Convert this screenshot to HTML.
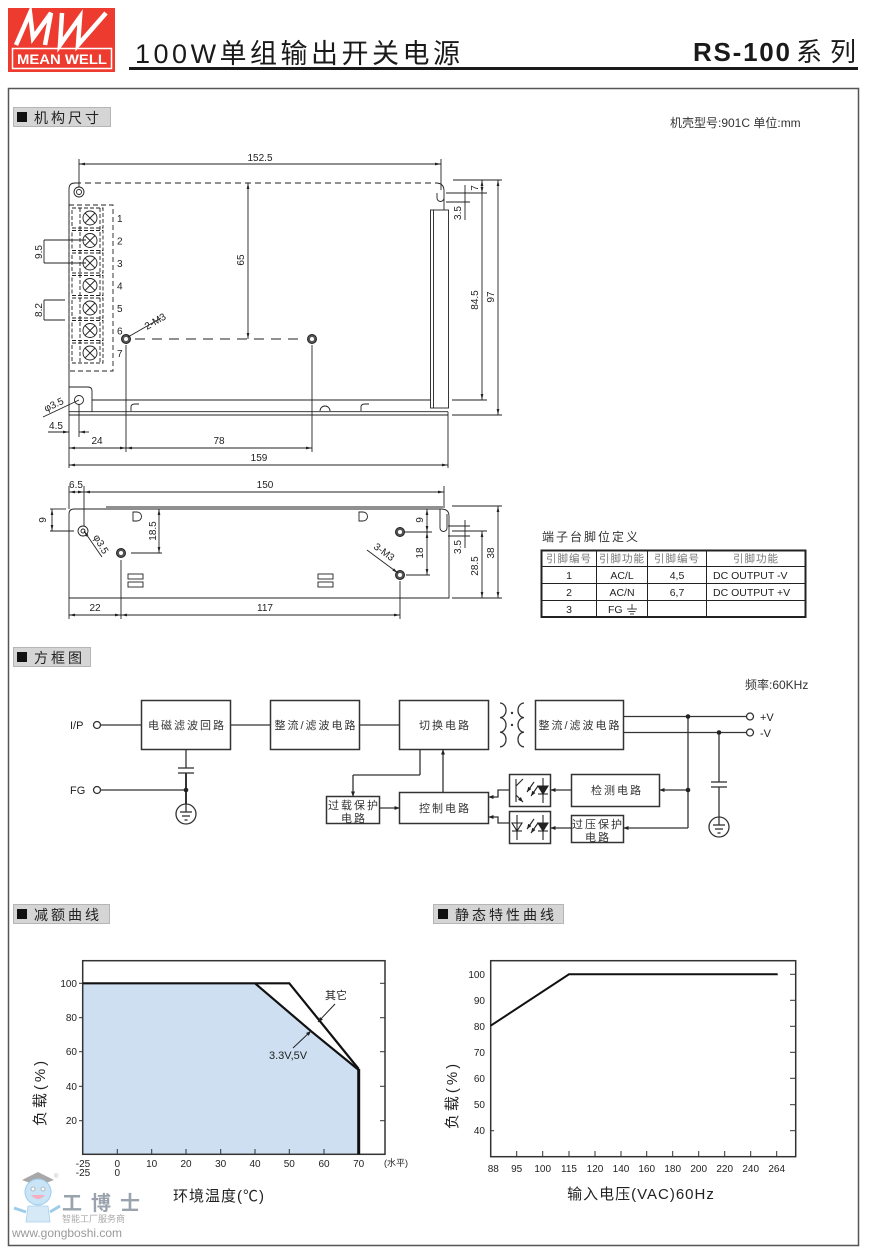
<!DOCTYPE html>
<html><head><meta charset="utf-8"><style>
html,body{margin:0;padding:0;background:#fff;}
svg{display:block;}
text{font-family:"Liberation Sans","Noto Sans CJK SC",sans-serif;fill:#222;}
.d{font-size:10px;}
.b{font-size:11px;letter-spacing:2px;fill:#333;}
.l{stroke:#222;stroke-width:0.9;fill:none;}
.k{stroke:#333;stroke-width:1.3;fill:none;}
</style></head><body>
<svg width="869" height="1253" viewBox="0 0 869 1253" xmlns="http://www.w3.org/2000/svg">
<defs>
<marker id="a" viewBox="0 0 12 6" refX="12" refY="3" markerWidth="6" markerHeight="3" orient="auto-start-reverse" markerUnits="userSpaceOnUse"><path d="M0,0.3 L12,3 L0,5.7z" fill="#222"/></marker>
<marker id="b" viewBox="0 0 10 8" refX="10" refY="4" markerWidth="5" markerHeight="4" orient="auto" markerUnits="userSpaceOnUse"><path d="M0,0 L10,4 L0,8z" fill="#222"/></marker>
</defs>

<!-- Header -->
<rect x="8" y="8" width="107" height="64" fill="#ee3b2f"/>
<polyline points="16,45 30,13 33,38 51,13 45,45" fill="none" stroke="#fff" stroke-width="4.5" stroke-linejoin="miter"/>
<polyline points="62,13 60,45 80,17 78,45 106,13" fill="none" stroke="#fff" stroke-width="4.5" stroke-linejoin="miter"/>
<rect x="12.5" y="48.5" width="99" height="20" fill="none" stroke="#fff" stroke-width="1.5"/>
<text x="62" y="64" text-anchor="middle" font-size="14" font-weight="bold" style="fill:#fff" textLength="90" lengthAdjust="spacingAndGlyphs">MEAN WELL</text>
<text x="135" y="63" font-size="27" textLength="325" lengthAdjust="spacing" style="fill:#1a1a1a">100W单组输出开关电源</text>
<rect x="129" y="67" width="729" height="3" fill="#1a1a1a"/>
<text x="693" y="61" font-size="26" font-weight="bold" textLength="97" lengthAdjust="spacing" style="fill:#1a1a1a">RS-100</text>
<text y="61" font-size="26" style="fill:#1a1a1a"><tspan x="796">系</tspan><tspan x="830">列</tspan></text>

<!-- Frame -->
<rect x="8.5" y="88.5" width="850" height="1157" fill="none" stroke="#555" stroke-width="1.5"/>

<!-- Section headers -->
<rect x="13.5" y="107.5" width="97" height="19" fill="#d5d5d5" stroke="#b5b5b5"/>
<rect x="17" y="112" width="10" height="10" fill="#111"/>
<text x="34" y="123" font-size="14" letter-spacing="3">机构尺寸</text>

<rect x="13.5" y="647.5" width="77" height="19" fill="#d5d5d5" stroke="#b5b5b5"/>
<rect x="17" y="652" width="10" height="10" fill="#111"/>
<text x="34" y="663" font-size="14" letter-spacing="3">方框图</text>

<rect x="13.5" y="904.5" width="96" height="19" fill="#d5d5d5" stroke="#b5b5b5"/>
<rect x="17" y="909" width="10" height="10" fill="#111"/>
<text x="34" y="920" font-size="14" letter-spacing="3">减额曲线</text>

<rect x="433.5" y="904.5" width="130" height="19" fill="#d5d5d5" stroke="#b5b5b5"/>
<rect x="438" y="909" width="10" height="10" fill="#111"/>
<text x="455" y="920" font-size="14" letter-spacing="3">静态特性曲线</text>

<text x="670" y="127" font-size="12" style="fill:#333">机壳型号:901C 单位:mm</text>

<!-- ========== TOP VIEW ========== -->
<path class="l" d="M69,415 V189 Q69,183 75,183"/>
<path class="l" d="M75,183 H436" stroke-dasharray="6,4"/>
<path class="l" d="M436,183 Q444,183 444,191 V210"/>
<path class="l" d="M437,193 V198 A3.5,3.5 0 0 0 444,198"/>
<rect x="430.5" y="210" width="18" height="198" class="l" stroke-width="1.2"/>
<line x1="433.5" y1="210" x2="433.5" y2="408" class="l"/>
<line x1="92" y1="400" x2="430.5" y2="400" class="l"/>
<line x1="69" y1="411.7" x2="448" y2="411.7" class="l"/>
<line x1="69" y1="415" x2="448" y2="415" class="l"/>
<line x1="448" y1="411.7" x2="448" y2="415" class="l"/>
<path class="l" d="M69,387 H88 Q92,387 92,391 V411.7"/>
<circle cx="79" cy="192" r="5" class="l"/><circle cx="79" cy="192" r="2.5" class="l"/>
<circle cx="79" cy="400" r="4.5" class="l"/>
<path class="l" d="M131,411 V407 Q131,404 135,404 H139"/>
<path class="l" d="M320,411 A5,5 0 0 1 330,411"/>
<path class="l" d="M361,411 V407 Q361,404 365,404 H369"/>

<!-- terminal block -->
<rect x="69" y="205" width="44" height="166" class="l" stroke-dasharray="5,3"/>
<g class="l" stroke-dasharray="4,2">
<rect x="72" y="208" width="31" height="20"/><rect x="72" y="230.5" width="31" height="20"/><rect x="72" y="253" width="31" height="20"/><rect x="72" y="275.5" width="31" height="20"/><rect x="72" y="298" width="31" height="20"/><rect x="72" y="320.5" width="31" height="20"/><rect x="72" y="343" width="31" height="20"/>
<line x1="80" y1="208" x2="80" y2="363"/><line x1="100" y1="208" x2="100" y2="363"/>
</g>
<g class="l">
<circle cx="90" cy="218" r="7"/><path d="M85,213 L95,223 M95,213 L85,223"/>
<circle cx="90" cy="240.5" r="7"/><path d="M85,235.5 L95,245.5 M95,235.5 L85,245.5"/>
<circle cx="90" cy="263" r="7"/><path d="M85,258 L95,268 M95,258 L85,268"/>
<circle cx="90" cy="285.5" r="7"/><path d="M85,280.5 L95,290.5 M95,280.5 L85,290.5"/>
<circle cx="90" cy="308" r="7"/><path d="M85,303 L95,313 M95,303 L85,313"/>
<circle cx="90" cy="330.5" r="7"/><path d="M85,325.5 L95,335.5 M95,325.5 L85,335.5"/>
<circle cx="90" cy="353" r="7"/><path d="M85,348 L95,358 M95,348 L85,358"/>
</g>
<g class="d"><text x="117" y="222">1</text><text x="117" y="244.5">2</text><text x="117" y="267">3</text><text x="117" y="289.5">4</text><text x="117" y="312">5</text><text x="117" y="334.5">6</text><text x="117" y="357">7</text></g>

<!-- 9.5 / 8.2 -->
<g class="l"><line x1="44" y1="240" x2="86" y2="240"/><line x1="44" y1="263" x2="86" y2="263"/><line x1="44" y1="240" x2="44" y2="263"/>
<line x1="44" y1="300" x2="65" y2="300"/><line x1="44" y1="320" x2="65" y2="320"/><line x1="44" y1="300" x2="44" y2="320"/></g>
<text class="d" transform="translate(42,252) rotate(-90)" text-anchor="middle">9.5</text>
<text class="d" transform="translate(42,310) rotate(-90)" text-anchor="middle">8.2</text>

<!-- mount holes 2-M3 -->
<circle cx="126" cy="339" r="4.5" fill="#555" stroke="#222"/><circle cx="126" cy="339" r="2" fill="#fff"/>
<circle cx="312" cy="339" r="4.5" fill="#555" stroke="#222"/><circle cx="312" cy="339" r="2" fill="#fff"/>
<line x1="135" y1="339" x2="304" y2="339" class="l" stroke-dasharray="10,7"/>
<line x1="128" y1="337" x2="161" y2="318" class="l"/>
<text class="d" transform="translate(147,330) rotate(-30)">2-M3</text>
<line x1="248" y1="183" x2="248" y2="339" class="l" marker-start="url(#a)" marker-end="url(#a)"/>
<text class="d" transform="translate(244,260) rotate(-90)" text-anchor="middle">65</text>

<!-- bottom dims top view -->
<g class="l"><line x1="126" y1="345" x2="126" y2="452"/><line x1="312" y1="345" x2="312" y2="452"/>
<line x1="69" y1="415" x2="69" y2="468"/><line x1="448" y1="415" x2="448" y2="468"/>
<line x1="79" y1="404" x2="79" y2="437"/></g>
<line x1="69" y1="448" x2="126" y2="448" class="l" marker-start="url(#a)" marker-end="url(#a)"/>
<line x1="126" y1="448" x2="312" y2="448" class="l" marker-start="url(#a)" marker-end="url(#a)"/>
<line x1="69" y1="465" x2="448" y2="465" class="l" marker-start="url(#a)" marker-end="url(#a)"/>
<line x1="48" y1="432" x2="69" y2="432" class="l" marker-end="url(#a)"/>
<line x1="89" y1="432" x2="79" y2="432" class="l" marker-end="url(#a)"/>
<text class="d" x="97" y="444" text-anchor="middle">24</text>
<text class="d" x="219" y="444" text-anchor="middle">78</text>
<text class="d" x="259" y="461" text-anchor="middle">159</text>
<text class="d" x="56" y="429" text-anchor="middle">4.5</text>
<line x1="43" y1="417" x2="79" y2="400" class="l"/>
<text class="d" transform="translate(46,412) rotate(-25)">φ3.5</text>

<!-- 152.5 -->
<g class="l"><line x1="79" y1="159" x2="79" y2="187"/><line x1="441" y1="159" x2="441" y2="190"/></g>
<line x1="79" y1="164" x2="441" y2="164" class="l" marker-start="url(#a)" marker-end="url(#a)"/>
<text class="d" x="260" y="161" text-anchor="middle">152.5</text>

<!-- right dims top view -->
<g class="l"><line x1="453" y1="180" x2="502" y2="180"/><line x1="446" y1="193" x2="487" y2="193"/><line x1="446" y1="202" x2="470" y2="202"/>
<line x1="452" y1="400" x2="487" y2="400"/><line x1="452" y1="415" x2="502" y2="415"/>
<line x1="465" y1="185" x2="465" y2="220"/></g>
<line x1="482" y1="180" x2="482" y2="193" class="l" marker-start="url(#a)" marker-end="url(#a)"/>
<line x1="482" y1="193" x2="482" y2="400" class="l" marker-end="url(#a)"/>
<line x1="498" y1="180" x2="498" y2="415" class="l" marker-start="url(#a)" marker-end="url(#a)"/>
<text class="d" transform="translate(478,188) rotate(-90)" text-anchor="middle">7</text>
<text class="d" transform="translate(461,213) rotate(-90)" text-anchor="middle">3.5</text>
<text class="d" transform="translate(478,300) rotate(-90)" text-anchor="middle">84.5</text>
<text class="d" transform="translate(494,297) rotate(-90)" text-anchor="middle">97</text>

<!-- ========== SIDE VIEW ========== -->
<path class="l" d="M69,598 V514 Q69,509 74,509 H441 Q449,509 449,516 V598 Z"/>
<line x1="106" y1="507" x2="443" y2="507" class="l"/>
<path class="l" d="M440,509 V528 A3.5,3.5 0 0 0 447,528 V514"/>
<circle cx="83" cy="531" r="5" class="l"/><circle cx="83" cy="531" r="2" class="l"/>
<circle cx="121" cy="553" r="4.5" fill="#555" stroke="#222"/><circle cx="121" cy="553" r="2" fill="#fff"/>
<circle cx="400" cy="532" r="4.5" fill="#555" stroke="#222"/><circle cx="400" cy="532" r="2" fill="#fff"/>
<circle cx="400" cy="575" r="4.5" fill="#555" stroke="#222"/><circle cx="400" cy="575" r="2" fill="#fff"/>
<path class="l" d="M133,512 h4 a4.5,4.5 0 0 1 0,9 h-4 z"/>
<path class="l" d="M359,512 h4 a4.5,4.5 0 0 1 0,9 h-4 z"/>
<g class="l"><rect x="128" y="574" width="15" height="5"/><rect x="128" y="582" width="15" height="5"/>
<rect x="318" y="574" width="15" height="5"/><rect x="318" y="582" width="15" height="5"/></g>
<g class="l"><line x1="69" y1="486" x2="69" y2="509"/><line x1="84" y1="486" x2="84" y2="526"/><line x1="444" y1="486" x2="444" y2="508"/>
<line x1="50" y1="509" x2="66" y2="509"/><line x1="50" y1="531" x2="74" y2="531"/>
<line x1="131" y1="553" x2="162" y2="553"/>
<line x1="405" y1="532" x2="432" y2="532"/><line x1="406" y1="575" x2="430" y2="575"/>
<line x1="452" y1="506" x2="502" y2="506"/><line x1="452" y1="531" x2="487" y2="531"/><line x1="452" y1="598" x2="502" y2="598"/>
<line x1="448" y1="526" x2="470" y2="526"/><line x1="448" y1="536" x2="470" y2="536"/>
<line x1="465" y1="520" x2="465" y2="548"/>
<line x1="69" y1="598" x2="69" y2="619"/><line x1="121" y1="560" x2="121" y2="619"/><line x1="400" y1="581" x2="400" y2="619"/></g>
<line x1="69" y1="492" x2="84" y2="492" class="l" marker-start="url(#a)" marker-end="url(#a)"/>
<line x1="84" y1="492" x2="444" y2="492" class="l" marker-start="url(#a)" marker-end="url(#a)"/>
<line x1="52" y1="509" x2="52" y2="531" class="l" marker-start="url(#a)" marker-end="url(#a)"/>
<line x1="159" y1="509" x2="159" y2="553" class="l" marker-start="url(#a)" marker-end="url(#a)"/>
<line x1="427" y1="509" x2="427" y2="532" class="l" marker-start="url(#a)" marker-end="url(#a)"/>
<line x1="427" y1="532" x2="427" y2="575" class="l" marker-start="url(#a)" marker-end="url(#a)"/>
<line x1="482" y1="531" x2="482" y2="598" class="l" marker-start="url(#a)" marker-end="url(#a)"/>
<line x1="498" y1="506" x2="498" y2="598" class="l" marker-start="url(#a)" marker-end="url(#a)"/>
<line x1="69" y1="615" x2="121" y2="615" class="l" marker-start="url(#a)" marker-end="url(#a)"/>
<line x1="121" y1="615" x2="400" y2="615" class="l" marker-start="url(#a)" marker-end="url(#a)"/>
<line x1="84" y1="531" x2="102" y2="557" class="l" marker-start="url(#a)"/>
<line x1="367" y1="550" x2="398" y2="573" class="l" marker-end="url(#a)"/>
<text class="d" x="76" y="488" text-anchor="middle">6.5</text>
<text class="d" x="265" y="488" text-anchor="middle">150</text>
<text class="d" transform="translate(46,520) rotate(-90)" text-anchor="middle">9</text>
<text class="d" transform="translate(156,531) rotate(-90)" text-anchor="middle">18.5</text>
<text class="d" transform="translate(423,520) rotate(-90)" text-anchor="middle">9</text>
<text class="d" transform="translate(423,553) rotate(-90)" text-anchor="middle">18</text>
<text class="d" transform="translate(461,547) rotate(-90)" text-anchor="middle">3.5</text>
<text class="d" transform="translate(478,566) rotate(-90)" text-anchor="middle">28.5</text>
<text class="d" transform="translate(494,553) rotate(-90)" text-anchor="middle">38</text>
<text class="d" x="95" y="611" text-anchor="middle">22</text>
<text class="d" x="265" y="611" text-anchor="middle">117</text>
<text class="d" transform="translate(93,537) rotate(60)">φ3.5</text>
<text class="d" transform="translate(373,548) rotate(36)">3-M3</text>

<!-- pin table -->
<text x="542" y="541" font-size="12" letter-spacing="2" style="fill:#333">端子台脚位定义</text>
<rect x="541.5" y="550.5" width="264" height="66.5" fill="none" stroke="#222" stroke-width="2"/>
<g stroke="#222" stroke-width="1">
<line x1="541.5" y1="566.5" x2="805.5" y2="566.5"/><line x1="541.5" y1="583.5" x2="805.5" y2="583.5"/><line x1="541.5" y1="600.5" x2="805.5" y2="600.5"/>
<line x1="596.5" y1="550.5" x2="596.5" y2="617"/><line x1="647.5" y1="550.5" x2="647.5" y2="617"/><line x1="706.5" y1="550.5" x2="706.5" y2="617"/>
</g>
<g font-size="10.5" text-anchor="middle" letter-spacing="1" style="fill:#777">
<text x="569" y="562" style="fill:#777">引脚编号</text><text x="622" y="562" style="fill:#777">引脚功能</text><text x="677" y="562" style="fill:#777">引脚编号</text><text x="756" y="562" style="fill:#777">引脚功能</text>
</g>
<g font-size="10.5">
<text x="569" y="579" text-anchor="middle">1</text><text x="622" y="579" text-anchor="middle">AC/L</text><text x="677" y="579" text-anchor="middle">4,5</text><text x="713" y="579">DC OUTPUT -V</text>
<text x="569" y="596" text-anchor="middle">2</text><text x="622" y="596" text-anchor="middle">AC/N</text><text x="677" y="596" text-anchor="middle">6,7</text><text x="713" y="596">DC OUTPUT +V</text>
<text x="569" y="613" text-anchor="middle">3</text><text x="608" y="613">FG</text>
</g>
<g stroke="#333" stroke-width="0.9"><line x1="632" y1="604" x2="632" y2="609"/><line x1="627" y1="609" x2="637" y2="609"/><line x1="628.5" y1="611.5" x2="635.5" y2="611.5"/><line x1="630" y1="614" x2="634" y2="614"/></g>

<!-- ========== BLOCK DIAGRAM ========== -->
<text x="745" y="689" font-size="12" style="fill:#333">频率:60KHz</text>
<g stroke="#333" stroke-width="1.5" fill="none">
<rect x="141.5" y="700.5" width="89" height="49"/>
<rect x="270.5" y="700.5" width="89" height="49"/>
<rect x="399.5" y="700.5" width="89" height="49"/>
<rect x="535.5" y="700.5" width="88" height="49"/>
<rect x="571.5" y="774.5" width="88" height="32"/>
<rect x="571.5" y="815.5" width="52" height="27"/>
<rect x="509.5" y="774.5" width="41" height="32"/>
<rect x="509.5" y="811.5" width="41" height="32"/>
<rect x="399.5" y="792.5" width="89" height="31"/>
<rect x="326.5" y="796.5" width="53" height="27"/>
</g>
<text class="b" x="187" y="729" text-anchor="middle">电磁滤波回路</text>
<text class="b" x="316" y="729" text-anchor="middle">整流/滤波电路</text>
<text class="b" x="445" y="729" text-anchor="middle">切换电路</text>
<text class="b" x="580" y="729" text-anchor="middle">整流/滤波电路</text>
<text class="b" x="617" y="794" text-anchor="middle">检测电路</text>
<text class="b" x="598" y="828" text-anchor="middle">过压保护</text>
<text class="b" x="598" y="841" text-anchor="middle">电路</text>
<text class="b" x="445" y="812" text-anchor="middle">控制电路</text>
<text class="b" x="354" y="809" text-anchor="middle">过载保护</text>
<text class="b" x="354" y="822" text-anchor="middle">电路</text>

<!-- transformer -->
<path class="k" d="M500,703 a6,7.3 0 0 1 0,14.6 a6,7.3 0 0 1 0,14.6 a6,7.3 0 0 1 0,14.6"/>
<path class="k" d="M524,703 a6,7.3 0 0 0 0,14.6 a6,7.3 0 0 0 0,14.6 a6,7.3 0 0 0 0,14.6"/>
<circle cx="512" cy="713" r="1.2" fill="#333"/><circle cx="512" cy="725" r="1.2" fill="#333"/>

<!-- wires -->
<g class="k">
<circle cx="97" cy="725" r="3.5"/><line x1="101" y1="725" x2="141.5" y2="725"/>
<circle cx="97" cy="790" r="3.5"/><line x1="101" y1="790" x2="186" y2="790"/>
<line x1="230.5" y1="725" x2="270.5" y2="725"/>
<line x1="359.5" y1="725" x2="399.5" y2="725"/>
<line x1="186" y1="749.5" x2="186" y2="768"/>
<line x1="178" y1="768" x2="194" y2="768"/><line x1="178" y1="773" x2="194" y2="773"/>
<line x1="186" y1="773" x2="186" y2="804" stroke-width="2"/>
<circle cx="186" cy="814" r="10"/>
<line x1="186" y1="804" x2="186" y2="812"/><line x1="180" y1="812" x2="192" y2="812"/><line x1="182" y1="816" x2="190" y2="816"/><line x1="184.5" y1="820" x2="187.5" y2="820"/>
<line x1="623.5" y1="716.5" x2="746" y2="716.5"/>
<line x1="623.5" y1="732.5" x2="746" y2="732.5"/>
<circle cx="750" cy="716.5" r="3.5"/><circle cx="750" cy="732.5" r="3.5"/>
<line x1="688" y1="716.5" x2="688" y2="828"/>
<line x1="719" y1="732.5" x2="719" y2="782"/>
<line x1="711" y1="782" x2="727" y2="782"/><line x1="711" y1="787" x2="727" y2="787"/>
<line x1="719" y1="787" x2="719" y2="817"/>
<circle cx="719" cy="827" r="10"/>
<line x1="719" y1="817" x2="719" y2="825"/><line x1="713" y1="825" x2="725" y2="825"/><line x1="715" y1="829" x2="723" y2="829"/><line x1="717.5" y1="833" x2="720.5" y2="833"/>
<line x1="420" y1="749.5" x2="420" y2="775"/><line x1="420" y1="775" x2="353" y2="775"/>
</g>
<g class="k">
<line x1="353" y1="775" x2="353" y2="796.5" marker-end="url(#b)"/>
<line x1="443" y1="792.5" x2="443" y2="749.5" marker-end="url(#b)"/>
<line x1="379.5" y1="808" x2="399.5" y2="808" marker-end="url(#b)"/>
<line x1="688" y1="790" x2="659.5" y2="790" marker-end="url(#b)"/>
<line x1="571.5" y1="790" x2="550.5" y2="790" marker-end="url(#b)"/>
<line x1="688" y1="828" x2="623.5" y2="828" marker-end="url(#b)"/>
<line x1="571.5" y1="828" x2="550.5" y2="828" marker-end="url(#b)"/>
<polyline points="509.5,790 498,790 498,797 488.5,797" marker-end="url(#b)"/>
<polyline points="509.5,823 498,823 498,817 488.5,817" marker-end="url(#b)"/>
</g>
<circle cx="186" cy="790" r="2.3" fill="#222"/>
<circle cx="688" cy="716.5" r="2.3" fill="#222"/>
<circle cx="688" cy="790" r="2.3" fill="#222"/>
<circle cx="719" cy="732.5" r="2.3" fill="#222"/>
<text x="70" y="729" font-size="11">I/P</text>
<text x="70" y="794" font-size="11">FG</text>
<text x="760" y="721" font-size="11">+V</text>
<text x="760" y="737" font-size="11">-V</text>

<!-- opto symbols -->
<g stroke="#222" stroke-width="1.1" fill="none">
<line x1="516" y1="779" x2="516" y2="802"/>
<line x1="516" y1="786" x2="523" y2="779"/><line x1="516" y1="795" x2="523" y2="802" marker-end="url(#b)"/>
<line x1="534" y1="782" x2="527" y2="792" marker-end="url(#b)"/><line x1="538" y1="786" x2="531" y2="796" marker-end="url(#b)"/>
<line x1="543" y1="778" x2="543" y2="803"/><path d="M538,786 H548 L543,794 Z" fill="#222"/><line x1="538" y1="794" x2="548" y2="794"/>
<line x1="517" y1="815" x2="517" y2="840"/><path d="M512,823 H522 L517,831 Z"/><line x1="512" y1="831" x2="522" y2="831"/>
<line x1="534" y1="819" x2="527" y2="829" marker-end="url(#b)"/><line x1="538" y1="823" x2="531" y2="833" marker-end="url(#b)"/>
<line x1="543" y1="815" x2="543" y2="840"/><path d="M538,823 H548 L543,831 Z" fill="#222"/><line x1="538" y1="831" x2="548" y2="831"/>
</g>

<!-- ========== DERATING CURVE ========== -->
<polygon points="83,983.3 255,983.3 311.7,1031.7 358.7,1070 358.7,1154.3 83,1154.3" fill="#cddff1"/>
<rect x="82.7" y="960.7" width="302.3" height="193.6" fill="none" stroke="#333" stroke-width="1.5"/>
<polyline points="83,983.3 289.3,983.3 358.7,1069" fill="none" stroke="#111" stroke-width="2.2"/>
<polyline points="255,983.3 311.7,1031.7 358.7,1070" fill="none" stroke="#111" stroke-width="2.2"/>
<line x1="358.7" y1="1069" x2="358.7" y2="1154.3" stroke="#111" stroke-width="3"/>
<g stroke="#333" stroke-width="1">
<line x1="117.3" y1="1154" x2="117.3" y2="1149"/><line x1="151.7" y1="1154" x2="151.7" y2="1149"/><line x1="186" y1="1154" x2="186" y2="1149"/><line x1="220.7" y1="1154" x2="220.7" y2="1149"/><line x1="255" y1="1154" x2="255" y2="1149"/><line x1="289.3" y1="1154" x2="289.3" y2="1149"/><line x1="324" y1="1154" x2="324" y2="1149"/>
<line x1="380" y1="983.3" x2="385" y2="983.3"/><line x1="380" y1="1017.7" x2="385" y2="1017.7"/><line x1="380" y1="1051.7" x2="385" y2="1051.7"/><line x1="380" y1="1086.3" x2="385" y2="1086.3"/><line x1="380" y1="1120.7" x2="385" y2="1120.7"/>
<line x1="79" y1="1017.7" x2="83" y2="1017.7"/><line x1="79" y1="1051.7" x2="83" y2="1051.7"/><line x1="79" y1="1086.3" x2="83" y2="1086.3"/><line x1="79" y1="1120.7" x2="83" y2="1120.7"/><line x1="79" y1="983.3" x2="83" y2="983.3"/>
</g>
<g class="d" text-anchor="end"><text x="77" y="987">100</text><text x="77" y="1021">80</text><text x="77" y="1055">60</text><text x="77" y="1090">40</text><text x="77" y="1124">20</text></g>
<g class="d" text-anchor="middle"><text x="83" y="1167">-25</text><text x="117.3" y="1167">0</text><text x="151.7" y="1167">10</text><text x="186" y="1167">20</text><text x="220.7" y="1167">30</text><text x="255" y="1167">40</text><text x="289.3" y="1167">50</text><text x="324" y="1167">60</text><text x="358.7" y="1167">70</text>
<text x="83" y="1176">-25</text><text x="117.3" y="1176">0</text></g>
<text x="384" y="1166" font-size="9">(水平)</text>
<text x="325" y="999" font-size="11">其它</text>
<line x1="335" y1="1004" x2="318" y2="1022" stroke="#222" marker-end="url(#b)"/>
<text x="269" y="1059" font-size="11">3.3V,5V</text>
<line x1="293" y1="1048" x2="311" y2="1031" stroke="#222" marker-end="url(#b)"/>
<text font-size="15" transform="translate(45,1092) rotate(-90)" text-anchor="middle" letter-spacing="3">负载(%)</text>
<text x="219" y="1201" font-size="15" text-anchor="middle" letter-spacing="1">环境温度(℃)</text>

<!-- ========== STATIC CURVE ========== -->
<rect x="490.7" y="960.7" width="305" height="196" fill="none" stroke="#333" stroke-width="1.5"/>
<polyline points="490.7,1025.7 569,974.3 777.7,974.3" fill="none" stroke="#111" stroke-width="2"/>
<g stroke="#333" stroke-width="1">
<line x1="516.7" y1="1156.7" x2="516.7" y2="1151"/><line x1="542.7" y1="1156.7" x2="542.7" y2="1151"/><line x1="569" y1="1156.7" x2="569" y2="1151"/><line x1="595" y1="1156.7" x2="595" y2="1151"/><line x1="621" y1="1156.7" x2="621" y2="1151"/><line x1="646.7" y1="1156.7" x2="646.7" y2="1151"/><line x1="672.7" y1="1156.7" x2="672.7" y2="1151"/><line x1="698.7" y1="1156.7" x2="698.7" y2="1151"/><line x1="724.7" y1="1156.7" x2="724.7" y2="1151"/><line x1="750.7" y1="1156.7" x2="750.7" y2="1151"/><line x1="776.7" y1="1156.7" x2="776.7" y2="1151"/>
<line x1="790" y1="974.3" x2="795.7" y2="974.3"/><line x1="790" y1="1000.3" x2="795.7" y2="1000.3"/><line x1="790" y1="1026.3" x2="795.7" y2="1026.3"/><line x1="790" y1="1052.3" x2="795.7" y2="1052.3"/><line x1="790" y1="1078.3" x2="795.7" y2="1078.3"/><line x1="790" y1="1104.7" x2="795.7" y2="1104.7"/><line x1="790" y1="1130.7" x2="795.7" y2="1130.7"/>
<line x1="490.7" y1="1130.7" x2="494" y2="1130.7"/>
</g>
<g class="d" text-anchor="end"><text x="485" y="978">100</text><text x="485" y="1004">90</text><text x="485" y="1030">80</text><text x="485" y="1056">70</text><text x="485" y="1082">60</text><text x="485" y="1108">50</text><text x="485" y="1134">40</text></g>
<g class="d" text-anchor="middle"><text x="493.3" y="1172">88</text><text x="516.7" y="1172">95</text><text x="542.7" y="1172">100</text><text x="569" y="1172">115</text><text x="595" y="1172">120</text><text x="621" y="1172">140</text><text x="646.7" y="1172">160</text><text x="672.7" y="1172">180</text><text x="698.7" y="1172">200</text><text x="724.7" y="1172">220</text><text x="750.7" y="1172">240</text><text x="776.7" y="1172">264</text></g>
<text font-size="15" transform="translate(457,1095) rotate(-90)" text-anchor="middle" letter-spacing="3">负载(%)</text>
<text x="641" y="1199" font-size="15" text-anchor="middle" letter-spacing="1">输入电压(VAC)60Hz</text>

<!-- watermark -->
<g opacity="0.85">
<path d="M22,1180 L38,1172 L54,1180 L38,1186 Z" fill="#9a9a9a"/>
<circle cx="38" cy="1192" r="13" fill="#bfe0f5" stroke="#8cc4e8"/>
<circle cx="33" cy="1189" r="2" fill="#fff" stroke="#777" stroke-width="0.6"/><circle cx="43" cy="1189" r="2" fill="#fff" stroke="#777" stroke-width="0.6"/>
<path d="M31,1195 Q38,1203 45,1195 Z" fill="#f4a0b4"/>
<path d="M28,1206 L48,1206 L50,1222 L26,1222 Z" fill="#cfe6f6" stroke="#9cc8e6" stroke-width="0.8"/>
<path d="M14,1208 L26,1212 M50,1212 L60,1206" stroke="#8cc4e8" stroke-width="3"/>
</g>
<text x="54" y="1178" font-size="6" style="fill:#bbb">®</text>
<text x="62" y="1210" font-size="20" font-weight="bold" letter-spacing="9" style="fill:#9aa3ad">工博士</text>
<text x="62" y="1222" font-size="9" style="fill:#aaa">智能工厂服务商</text>
<text x="12" y="1237" font-size="12" style="fill:#999">www.gongboshi.com</text>
</svg>
</body></html>
